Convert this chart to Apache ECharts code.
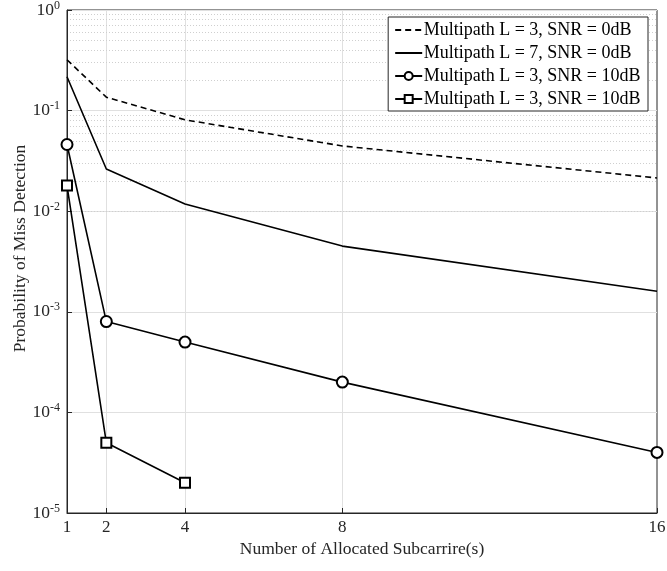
<!DOCTYPE html>
<html>
<head>
<meta charset="utf-8">
<script src="https://cdn.jsdelivr.net/npm/echarts@6/dist/echarts.min.js"></script>
<style>
  html, body { margin: 0; padding: 0; background: #fff; }
  #chart { width: 667px; height: 571px; }
</style>
</head>
<body>
<div id="chart"></div>
<script>
// Number of allocated subcarriers
const subcarriers = [1, 2, 4, 8, 16];
const subcarriersShort = [1, 2, 4];

// Probability of miss detection per configuration
const pmdL3Snr0 = [0.32, 0.136, 0.081, 0.0445, 0.0214];
const pmdL7Snr0 = [0.217, 0.0263, 0.0118, 0.0045, 0.0016];
const pmdL3Snr10Circle = [0.046, 0.0008, 0.0005, 0.0002, 0.00004];
const pmdL3Snr10Square = [0.018, 0.00005, 0.00002];

const seriesNames = [
  'Multipath L = 3, SNR = 0dB',
  'Multipath L = 7, SNR = 0dB',
  'Multipath L = 3, SNR = 10dB',
  'Multipath L = 3, SNR = 10dB '
];

// x tick positions and y decade range
const xTicks = [1, 2, 4, 8, 16];
const yMin = 1e-5;
const yMax = 1;

function pairs(xs, ys) { return xs.map((x, i) => [x, ys[i]]); }

// dotted minor grid values between decades
const minorY = [];
for (let e = -5; e < 0; e++) {
  for (let m = 2; m <= 9; m++) minorY.push(m * Math.pow(10, e));
}

const serif = '"Liberation Serif", "Times New Roman", serif';
const ink = '#000';
const axisInk = '#262626';

const chart = echarts.init(document.getElementById('chart'), null, { renderer: 'canvas' });

const lineStyleBase = { color: ink, width: 1.6 };
const hiddenMarker = { opacity: 0, color: 'rgba(0,0,0,0)', borderWidth: 0 };

chart.setOption({
  animation: false,
  backgroundColor: '#fff',
  textStyle: { fontFamily: serif },
  grid: {
    left: 67, right: 10, top: 10, bottom: 58,
    outerBoundsMode: 'none',
    containLabel: false,
    show: true, borderColor: axisInk, borderWidth: 1, backgroundColor: '#fff'
  },
  legend: {
    orient: 'vertical',
    right: 19, top: 17,
    z: 20, zlevel: 1,
    backgroundColor: '#fff',
    borderColor: axisInk, borderWidth: 1,
    padding: [4, 3, 3, 6],
    itemWidth: 27, itemHeight: 10, itemGap: 5,
    textStyle: { fontFamily: serif, fontSize: 18, color: ink, padding: [0, 0, 0, -3.5], lineHeight: 17 },
    data: [
      { name: seriesNames[0], itemStyle: hiddenMarker },
      { name: seriesNames[1], itemStyle: hiddenMarker },
      { name: seriesNames[2] },
      { name: seriesNames[3] }
    ]
  },
  xAxis: {
    type: 'value',
    min: 1, max: 16, interval: 1,
    name: 'Number of Allocated Subcarrire(s)',
    nameLocation: 'middle', nameGap: 27, nameMoveOverlap: false,
    nameTextStyle: { fontFamily: serif, fontSize: 17.5, color: axisInk },
    axisLine: { show: true, lineStyle: { color: axisInk, width: 1 } },
    axisTick: { show: true, inside: true, length: 5, customValues: xTicks, lineStyle: { color: axisInk } },
    axisLabel: { customValues: xTicks, margin: 6, fontFamily: serif, fontSize: 17, color: axisInk },
    splitLine: { show: false }
  },
  yAxis: {
    type: 'log', logBase: 10,
    min: yMin, max: yMax,
    name: 'Probability of Miss Detection',
    nameLocation: 'middle', nameGap: 38, nameMoveOverlap: false,
    nameTextStyle: { fontFamily: serif, fontSize: 17.5, color: axisInk, padding: [0, 0, 0, 26] },
    axisLine: { show: true, lineStyle: { color: axisInk, width: 1 } },
    axisTick: { show: true, inside: true, length: 5, lineStyle: { color: axisInk } },
    axisLabel: {
      margin: 7,
      fontFamily: serif, fontSize: 17.5, color: axisInk,
      formatter: v => '10{sup|' + Math.round(Math.log10(v)) + '}',
      rich: { sup: { fontFamily: serif, fontSize: 12, color: axisInk, verticalAlign: 'top', padding: [0, 0, 9, 0] } }
    },
    splitLine: { show: true, lineStyle: { color: '#e0e0e0', width: 1 } }
  },
  series: [
    {
      // grid lines: vertical at x ticks, dotted minor horizontal lines
      type: 'line', data: [], silent: true, z: 0,
      markLine: {
        silent: true, symbol: 'none', label: { show: false }, animation: false, z: 0,
        data: [
          ...xTicks.slice(1, -1).map(x => ({ xAxis: x, lineStyle: { color: '#e0e0e0', type: 'solid', width: 1 } })),
          ...minorY.map(y => ({ yAxis: y, lineStyle: { color: '#cfcfcf', type: [1, 2], width: 1 } }))
        ]
      }
    },
    {
      name: seriesNames[0], type: 'line', z: 3,
      data: pairs(subcarriers, pmdL3Snr0),
      symbol: 'none',
      lineStyle: { ...lineStyleBase, type: [6, 4] },
      itemStyle: { color: ink }
    },
    {
      name: seriesNames[1], type: 'line', z: 3,
      data: pairs(subcarriers, pmdL7Snr0),
      symbol: 'none',
      lineStyle: { ...lineStyleBase },
      itemStyle: { color: ink }
    },
    {
      name: seriesNames[2], type: 'line', z: 3,
      data: pairs(subcarriers, pmdL3Snr10Circle),
      symbol: 'emptyCircle', symbolSize: 11,
      lineStyle: { ...lineStyleBase },
      itemStyle: { color: ink, borderColor: ink, borderWidth: 1.5 }
    },
    {
      name: seriesNames[3], type: 'line', z: 3,
      data: pairs(subcarriersShort, pmdL3Snr10Square),
      symbol: 'emptyRect', symbolSize: 10,
      lineStyle: { ...lineStyleBase },
      itemStyle: { color: ink, borderColor: ink, borderWidth: 1.5 }
    }
  ]
});
</script>
</body>
</html>
